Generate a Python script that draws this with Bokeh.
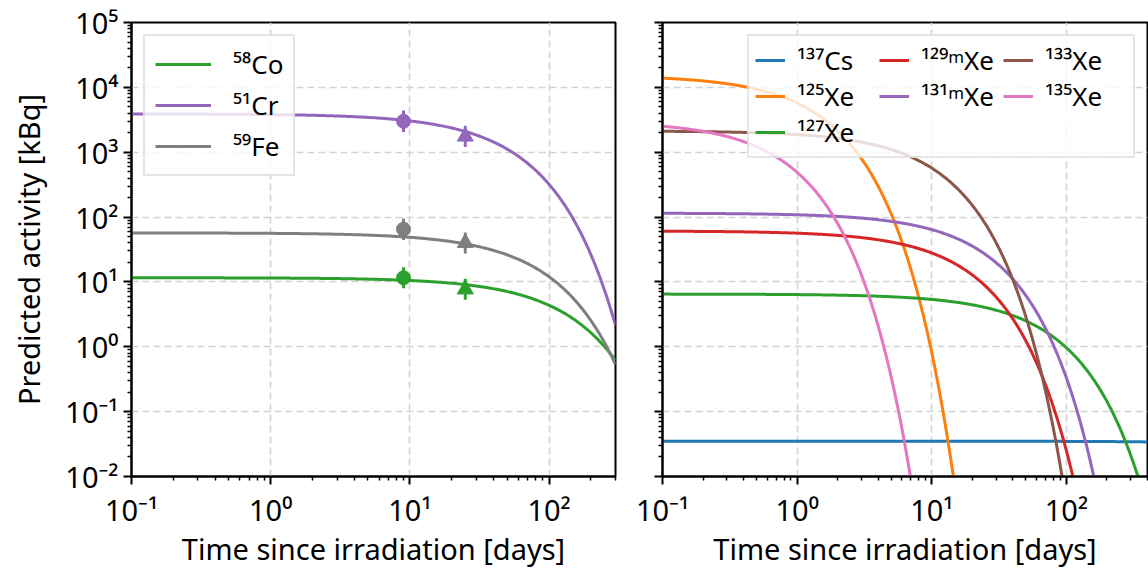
import numpy as np
from bokeh.plotting import figure
from bokeh.layouts import row
from bokeh.models import Range1d, CustomJSTickFormatter, Legend, LegendItem, FixedTicker
from bokeh.embed import file_html
from bokeh.resources import INLINE

FONT = "Noto Sans"

# ---------------- data ----------------
X_MIN = 0.1
X_MAX_LEFT = 300.0
X_MAX_RIGHT = 400.0
Y_MIN, Y_MAX = 1e-2, 1e5

# left panel: activation products
left_labels = ["⁵⁸Co", "⁵¹Cr", "⁵⁹Fe"]
left_colors = ["#2ca02c", "#9467bd", "#7f7f7f"]
left_a0 = [11.6, 3900.0, 57.0]            # predicted activity at t = 0 [kBq]
left_half_life = [70.86, 27.70, 44.50]    # half-lives [days]

# measured points (circle at first time, triangle at second)
meas_t = [9.0, 25.0]
meas_markers = ["circle", "triangle"]
co_meas = [11.6, 7.7]
co_lo = [8.0, 5.3]
co_hi = [16.9, 11.2]
cr_meas = [3000.0, 1750.0]
cr_lo = [2050.0, 1200.0]
cr_hi = [4380.0, 2550.0]
fe_meas = [65.0, 40.0]
fe_lo = [44.5, 27.4]
fe_hi = [95.0, 58.0]

# right panel: xenon isotopes and caesium
right_labels = ["¹³⁷Cs", "¹²⁵Xe", "¹²⁷Xe", "¹²⁹ᵐXe", "¹³¹ᵐXe", "¹³³Xe", "¹³⁵Xe"]
right_colors = ["#1f77b4", "#ff7f0e", "#2ca02c", "#d62728", "#9467bd", "#8c564b", "#e377c2"]
right_a0 = [0.035, 15300.0, 6.5, 61.0, 115.0, 2130.0, 3020.0]           # [kBq]
right_half_life = [10990.0, 0.704, 36.35, 8.88, 11.84, 5.247, 0.381]   # [days]

x_major = [0.1, 1.0, 10.0, 100.0]
y_major = [1e-2, 1e-1, 1e0, 1e1, 1e2, 1e3, 1e4, 1e5]

# --------------------------------------
def minor_list(lo_exp, hi_exp):
    return [m * 10.0 ** e for e in range(lo_exp, hi_exp) for m in range(2, 10)]

SUP_JS = """
const sup = {"-":"\u207b","0":"\u2070","1":"\u00b9","2":"\u00b2","3":"\u00b3",
             "4":"\u2074","5":"\u2075","6":"\u2076","7":"\u2077","8":"\u2078","9":"\u2079"};
const e = Math.round(Math.log10(tick));
return "10" + String(e).split("").map(c => sup[c]).join("");
"""

FS = "29px"


def make_fig(xmax, frame_w, border_left, border_right, show_ylabels):
    p = figure(x_axis_type="log", y_axis_type="log",
               x_range=Range1d(X_MIN, xmax), y_range=Range1d(Y_MIN, Y_MAX),
               frame_width=frame_w, frame_height=454,
               min_border_left=border_left, min_border_right=border_right,
               min_border_top=22, min_border_bottom=96,
               output_backend="svg", toolbar_location=None)
    p.background_fill_color = "white"
    p.border_fill_color = "white"
    p.outline_line_color = "black"
    p.outline_line_width = 2

    p.xaxis.ticker = FixedTicker(ticks=x_major, minor_ticks=minor_list(-1, 3))
    p.yaxis.ticker = FixedTicker(ticks=y_major, minor_ticks=minor_list(-2, 5))
    p.xaxis.formatter = CustomJSTickFormatter(code=SUP_JS)
    if show_ylabels:
        p.yaxis.formatter = CustomJSTickFormatter(code=SUP_JS)
        p.yaxis.axis_label = "Predicted activity [kBq]"
    else:
        p.yaxis.formatter = CustomJSTickFormatter(code="return '';")
        p.yaxis.major_label_standoff = 0
    p.xaxis.axis_label = "Time since irradiation [days]"

    for ax in p.axis:
        ax.axis_line_color = "black"
        ax.axis_line_width = 2
        ax.major_tick_line_color = "black"
        ax.major_tick_line_width = 2
        ax.major_tick_in = 0
        ax.major_tick_out = 8
        ax.minor_tick_line_color = "black"
        ax.minor_tick_line_width = 1.5
        ax.minor_tick_in = 0
        ax.minor_tick_out = 4
        ax.major_label_text_font = FONT
        ax.major_label_text_font_size = FS
        ax.major_label_text_color = "black"
        ax.axis_label_text_font = FONT
        ax.axis_label_text_font_size = FS
        ax.axis_label_text_font_style = "normal"
        ax.axis_label_text_color = "black"
    p.xaxis.major_label_standoff = 5
    p.xaxis.axis_label_standoff = -3
    p.yaxis.axis_label_standoff = 14

    for g in (p.xgrid, p.ygrid):
        g.grid_line_color = "#d3d3d3"
        g.grid_line_width = 1.6
        g.grid_line_dash = "7 4"
    return p


# ---------------- left panel ----------------
p1 = make_fig(X_MAX_LEFT, 484, 131, 10, True)
t1 = np.logspace(np.log10(X_MIN), np.log10(X_MAX_LEFT), 400)
left_renderers = []
for lab, col, a0, th in zip(left_labels, left_colors, left_a0, left_half_life):
    r = p1.line(t1, a0 * 0.5 ** (t1 / th), line_color=col, line_width=3)
    left_renderers.append(r)

for col, vals, lo, hi in [(left_colors[0], co_meas, co_lo, co_hi),
                          (left_colors[1], cr_meas, cr_lo, cr_hi),
                          (left_colors[2], fe_meas, fe_lo, fe_hi)]:
    p1.segment(x0=meas_t, y0=lo, x1=meas_t, y1=hi, line_color=col, line_width=3)
    p1.scatter(x=meas_t[:1], y=vals[:1], marker=meas_markers[0], size=14,
               fill_color=col, line_color=col)
    p1.scatter(x=meas_t[1:], y=vals[1:], marker=meas_markers[1], size=16,
               fill_color=col, line_color=col)

leg1 = Legend(items=[LegendItem(label=l, renderers=[r]) for l, r in zip(left_labels, left_renderers)],
              location="top_left", margin=12, padding=10, spacing=5,
              glyph_width=56, glyph_height=20, label_standoff=22, label_width=50,
              label_text_font=FONT, label_text_font_size="26px", label_text_color="black",
              border_line_color="#cccccc", border_line_width=2,
              background_fill_color="white", background_fill_alpha=0.8)
p1.add_layout(leg1)

# ---------------- right panel ----------------
p2 = make_fig(X_MAX_RIGHT, 485, 37, 1, False)
t2 = np.logspace(np.log10(X_MIN), np.log10(X_MAX_RIGHT), 600)
right_renderers = []
for lab, col, a0, th in zip(right_labels, right_colors, right_a0, right_half_life):
    a = a0 * 0.5 ** (t2 / th)
    keep = a >= 1e-3
    r = p2.line(t2[keep], a[keep], line_color=col, line_width=3)
    right_renderers.append(r)

blank = p2.line([], [], line_alpha=0)
items = [LegendItem(label=l, renderers=[r]) for l, r in zip(right_labels, right_renderers)]
items = items[:5] + [LegendItem(label=" ", renderers=[blank])] + items[5:]
leg2 = Legend(items=items, location="top_right", orientation="vertical", nrows=3,
              margin=12, padding=6, spacing=0,
              glyph_width=30, glyph_height=20, label_standoff=12, label_width=82,
              label_text_font=FONT, label_text_font_size="26px", label_text_color="black",
              border_line_color="#cccccc", border_line_width=2,
              background_fill_color="white", background_fill_alpha=0.8)
p2.add_layout(leg2)

layout = row(p1, p2)
open("out.html", "w").write(file_html(layout, INLINE))
